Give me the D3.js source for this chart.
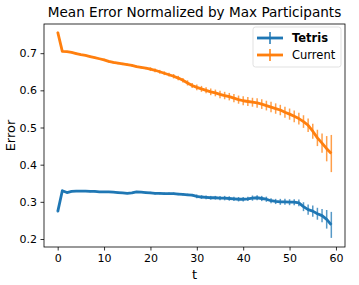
<!DOCTYPE html>
<html>
<head>
<meta charset="utf-8">
<script src="https://cdn.jsdelivr.net/npm/d3@7"></script>
<style>
    body { margin: 0; background: #fff; }
    svg { font-family: "DejaVu Sans", sans-serif; display: block; }
</style>
</head>
<body>
<div class="graph"></div>
<script>
// Chart data
const seriesNames = ["Tetris", "Current"];
const seriesColors = ["#1f77b4", "#ff7f0e"];

const tetrisMean = [
    0.273, 0.330, 0.325, 0.328, 0.329, 0.329, 0.329, 0.328, 0.328, 0.327,
    0.327, 0.327, 0.326, 0.325, 0.324, 0.323, 0.324, 0.327, 0.326, 0.325,
    0.324, 0.323, 0.323, 0.322, 0.322, 0.322, 0.321, 0.320, 0.319, 0.318,
    0.315, 0.313, 0.312, 0.311, 0.311, 0.310, 0.310, 0.309, 0.308, 0.307,
    0.307, 0.308, 0.310, 0.311, 0.309, 0.307, 0.303, 0.301, 0.300, 0.300,
    0.299, 0.299, 0.297, 0.287, 0.279, 0.275, 0.268, 0.263, 0.253, 0.238
];
const tetrisErr = [
    0.002, 0.002, 0.002, 0.002, 0.002, 0.002, 0.002, 0.002, 0.002, 0.002,
    0.002, 0.002, 0.002, 0.002, 0.002, 0.002, 0.002, 0.002, 0.002, 0.002,
    0.003, 0.003, 0.003, 0.003, 0.003, 0.003, 0.003, 0.003, 0.003, 0.003,
    0.005, 0.005, 0.005, 0.005, 0.005, 0.006, 0.006, 0.006, 0.006, 0.006,
    0.006, 0.006, 0.007, 0.007, 0.007, 0.007, 0.007, 0.007, 0.008, 0.008,
    0.008, 0.008, 0.009, 0.012, 0.014, 0.015, 0.016, 0.018, 0.025, 0.035
];

const currentMean = [
    0.757, 0.705, 0.704, 0.702, 0.699, 0.696, 0.694, 0.691, 0.688, 0.685,
    0.682, 0.678, 0.675, 0.673, 0.671, 0.669, 0.667, 0.664, 0.662, 0.660,
    0.657, 0.654, 0.650, 0.646, 0.642, 0.638, 0.633, 0.627, 0.620, 0.613,
    0.608, 0.604, 0.600, 0.596, 0.593, 0.589, 0.586, 0.583, 0.579, 0.575,
    0.572, 0.570, 0.568, 0.566, 0.563, 0.559, 0.555, 0.551, 0.547, 0.541,
    0.536, 0.530, 0.524, 0.516, 0.506, 0.490, 0.472, 0.458, 0.443, 0.430
];
const currentErr = [
    0.002, 0.002, 0.002, 0.002, 0.002, 0.002, 0.002, 0.002, 0.002, 0.002,
    0.003, 0.003, 0.003, 0.003, 0.003, 0.003, 0.003, 0.003, 0.003, 0.003,
    0.005, 0.005, 0.005, 0.005, 0.005, 0.006, 0.006, 0.006, 0.007, 0.007,
    0.008, 0.008, 0.008, 0.009, 0.009, 0.010, 0.010, 0.010, 0.011, 0.011,
    0.012, 0.012, 0.012, 0.013, 0.013, 0.013, 0.014, 0.014, 0.014, 0.015,
    0.015, 0.016, 0.016, 0.017, 0.018, 0.020, 0.022, 0.026, 0.034, 0.050
];

const xTicks = [0, 10, 20, 30, 40, 50, 60];
const yTicks = [0.2, 0.3, 0.4, 0.5, 0.6, 0.7];

function drawChart() {
    const dimensions = {
        width: 359,
        height: 285,
        margins: { top: 24, right: 14, bottom: 38, left: 44 }
    };
    dimensions.boundedWidth = dimensions.width - dimensions.margins.left - dimensions.margins.right;
    dimensions.boundedHeight = dimensions.height - dimensions.margins.top - dimensions.margins.bottom;

    const series = [
        { name: seriesNames[0], color: seriesColors[0], mean: tetrisMean, err: tetrisErr },
        { name: seriesNames[1], color: seriesColors[1], mean: currentMean, err: currentErr }
    ];
    series.forEach(s => {
        s.points = s.mean.map((m, i) => ({ t: i, m: m, e: s.err[i] }));
    });

    const wrapper = d3.select(".graph")
        .append("svg")
            .attr("width", dimensions.width)
            .attr("height", dimensions.height);

    const bounds = wrapper.append("g")
        .attr("transform", `translate(${dimensions.margins.left},${dimensions.margins.top})`);

    // matplotlib-style 5% margins
    const xScale = d3.scaleLinear()
        .domain([-2.95, 61.95])
        .range([0, dimensions.boundedWidth]);

    const yScale = d3.scaleLinear()
        .domain([0.1785, 0.7785])
        .range([dimensions.boundedHeight, 0]);

    // error bars, then lines
    series.forEach(s => {
        bounds.append("g")
            .selectAll("line")
            .data(s.points)
            .join("line")
                .attr("x1", d => xScale(d.t))
                .attr("x2", d => xScale(d.t))
                .attr("y1", d => yScale(d.m - d.e))
                .attr("y2", d => yScale(d.m + d.e))
                .attr("stroke", s.color)
                .attr("stroke-opacity", 0.75)
                .attr("stroke-width", 1.5);

        const lineGenerator = d3.line()
            .x(d => xScale(d.t))
            .y(d => yScale(d.m));

        bounds.append("path")
            .attr("d", lineGenerator(s.points))
            .attr("fill", "none")
            .attr("stroke", s.color)
            .attr("stroke-width", 2.8)
            .attr("stroke-linejoin", "round");
    });

    // axes
    const xAxis = bounds.append("g")
        .attr("transform", `translate(0,${dimensions.boundedHeight})`)
        .call(d3.axisBottom(xScale).tickValues(xTicks).tickSize(3.5).tickPadding(3.5).tickSizeOuter(0));
    const yAxis = bounds.append("g")
        .call(d3.axisLeft(yScale).tickValues(yTicks).tickFormat(d3.format(".1f")).tickSize(3.5).tickPadding(3.5).tickSizeOuter(0));

    [xAxis, yAxis].forEach(a => {
        a.select(".domain").remove();
        a.selectAll("line").attr("stroke", "#000").attr("stroke-width", 0.8);
        a.selectAll("text").attr("font-size", 11).attr("fill", "#000")
            .attr("font-family", "DejaVu Sans, sans-serif");
    });

    // frame
    bounds.append("rect")
        .attr("width", dimensions.boundedWidth)
        .attr("height", dimensions.boundedHeight)
        .attr("fill", "none")
        .attr("stroke", "#000")
        .attr("stroke-width", 0.8);

    // title and labels
    wrapper.append("text")
        .attr("x", dimensions.margins.left + dimensions.boundedWidth / 2)
        .attr("y", 17)
        .attr("text-anchor", "middle")
        .attr("font-size", 13.6)
        .text("Mean Error Normalized by Max Participants");

    wrapper.append("text")
        .attr("x", dimensions.margins.left + dimensions.boundedWidth / 2)
        .attr("y", 279)
        .attr("text-anchor", "middle")
        .attr("font-size", 13)
        .text("t");

    wrapper.append("text")
        .attr("transform", `translate(15,${dimensions.margins.top + dimensions.boundedHeight / 2}) rotate(-90)`)
        .attr("text-anchor", "middle")
        .attr("font-size", 13)
        .text("Error");

    // legend
    const legend = bounds.append("g")
        .attr("transform", `translate(${dimensions.boundedWidth - 92},3)`);
    legend.append("rect")
        .attr("width", 88)
        .attr("height", 40)
        .attr("rx", 2.5)
        .attr("fill", "#fff")
        .attr("fill-opacity", 0.8)
        .attr("stroke", "#d9d9d9")
        .attr("stroke-width", 0.8);

    const item = legend.selectAll("g.item")
        .data(series)
        .join("g")
            .attr("class", "item")
            .attr("transform", (d, i) => `translate(0,${11 + i * 17})`);
    item.append("line")
        .attr("x1", 4).attr("x2", 30)
        .attr("stroke", d => d.color)
        .attr("stroke-width", 2.8);
    item.append("line")
        .attr("x1", 17).attr("x2", 17)
        .attr("y1", -6).attr("y2", 6)
        .attr("stroke", d => d.color)
        .attr("stroke-width", 1.5);
    item.append("text")
        .attr("x", 39)
        .attr("y", 4)
        .attr("font-size", 11.5)
        .attr("font-weight", (d, i) => i === 0 ? "bold" : "normal")
        .text(d => d.name);
}

drawChart();
</script>
</body>
</html>
